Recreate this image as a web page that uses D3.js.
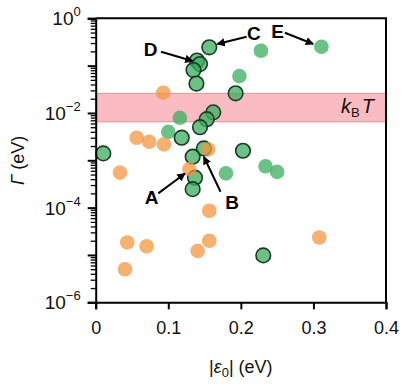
<!DOCTYPE html>
<html>
<head>
<meta charset="utf-8">
<script src="https://cdn.jsdelivr.net/npm/d3@7"></script>
<style>
  body { margin: 0; background: #fff; }
  text { font-family: "Liberation Sans", Arial, sans-serif; }
</style>
</head>
<body>
<svg></svg>
<script>
const WIDTH = 411;
const HEIGHT = 385;
const MARGIN = {top: 18.3, right: 25, bottom: 82.7, left: 95.7};

// |eps0| (eV), Gamma (eV)
const orangePoints = [
  [0.0931, 0.0268], [0.0565, 0.0030], [0.0738, 0.00246], [0.094, 0.00217],
  [0.155, 0.0017], [0.129, 0.00065], [0.0335, 0.00055], [0.1565, 8.6e-5],
  [0.0435, 1.84e-5], [0.0702, 1.53e-5], [0.1405, 1.22e-5], [0.1565, 2.0e-5],
  [0.308, 2.34e-5], [0.0404, 5.0e-6]
];
const greenPoints = [
  [0.311, 0.251], [0.2277, 0.206], [0.198, 0.060], [0.116, 0.0079],
  [0.100, 0.0040], [0.1795, 0.00053], [0.234, 0.00075], [0.250, 0.00057]
];
const greenOutlinedPoints = [
  [0.1565, 0.244], [0.1395, 0.128], [0.1437, 0.108], [0.1347, 0.0807],
  [0.1388, 0.0418], [0.1928, 0.026], [0.162, 0.0103], [0.153, 0.0074],
  [0.1437, 0.0050], [0.1185, 0.0030], [0.0105, 0.0014], [0.149, 0.00178],
  [0.1336, 0.00119], [0.1368, 0.00043], [0.1336, 0.000246], [0.2029, 0.00159],
  [0.2309, 9.8e-6]
];
const kTBand = [0.0065, 0.026];
const xTicks = [0, 0.1, 0.2, 0.3, 0.4];
const yLabelExponents = [0, -2, -4, -6];
// label, text position, arrow start, arrow tip (data units)
const annotations = [
  {label: 'D', text: [0.0758, 0.221], from: [0.090, 0.197], to: [0.1336, 0.125]},
  {label: 'C', text: [0.218, 0.482], from: [0.208, 0.408], to: [0.1675, 0.286]},
  {label: 'E', text: [0.2507, 0.539], from: [0.2607, 0.496], to: [0.2997, 0.286]},
  {label: 'A', text: [0.0771, 1.64e-4], from: [0.0862, 2.0e-4], to: [0.123, 5.28e-4]},
  {label: 'B', text: [0.188, 1.29e-4], from: [0.172, 2.16e-4], to: [0.149, 1.19e-3]}
];

const ORANGE = '#f39640';
const GREEN = '#3aac5e';

const svg = d3.select('svg')
    .attr('width', WIDTH)
    .attr('height', HEIGHT);

const innerW = WIDTH - MARGIN.left - MARGIN.right;
const innerH = HEIGHT - MARGIN.top - MARGIN.bottom;

const x = d3.scaleLinear().domain([0, 0.4]).range([0, innerW]);
const y = d3.scaleLog().domain([1e-6, 1]).range([innerH, 0]);

const g = svg.append('g')
    .attr('transform', `translate(${MARGIN.left},${MARGIN.top})`);

// arrow head
svg.append('defs').append('marker')
    .attr('id', 'head')
    .attr('viewBox', '0 0 10 10')
    .attr('refX', 9).attr('refY', 5)
    .attr('markerWidth', 4.2).attr('markerHeight', 4.2)
    .attr('orient', 'auto')
  .append('path')
    .attr('d', 'M0,0 L10,5 L0,10 Z')
    .attr('fill', '#000');

// kBT band
g.append('rect')
    .attr('x', 0)
    .attr('width', innerW)
    .attr('y', y(kTBand[1]))
    .attr('height', y(kTBand[0]) - y(kTBand[1]))
    .attr('fill', '#f9b0b7')
    .attr('fill-opacity', 0.85)
    .attr('stroke', '#ec8c97')
    .attr('stroke-width', 1);

const kt = g.append('text')
    .attr('x', innerW - 12)
    .attr('y', y(kTBand[0]) - 9)
    .attr('text-anchor', 'end')
    .attr('font-size', 20)
    .attr('fill', '#111');
kt.append('tspan').attr('font-style', 'italic').text('k');
kt.append('tspan').attr('font-size', 13).attr('dy', 4).text('B');
kt.append('tspan').attr('font-style', 'italic').attr('dy', -4).attr('dx', 2).text('T');

// points
function drawPoints(data, fill, stroke, opacity) {
  g.append('g').selectAll('circle')
      .data(data)
    .enter().append('circle')
      .attr('cx', (d) => x(d[0]))
      .attr('cy', (d) => y(d[1]))
      .attr('r', 7.3)
      .attr('fill', fill)
      .attr('fill-opacity', opacity)
      .attr('stroke', stroke)
      .attr('stroke-width', stroke === 'none' ? 0 : 1.6);
}
drawPoints(greenPoints, GREEN, 'none', 0.75);
drawPoints(greenOutlinedPoints, GREEN, '#1b3a24', 0.75);
drawPoints(orangePoints, ORANGE, 'none', 0.75);

// annotations
annotations.forEach((a) => {
  g.append('line')
      .attr('x1', x(a.from[0])).attr('y1', y(a.from[1]))
      .attr('x2', x(a.to[0])).attr('y2', y(a.to[1]))
      .attr('stroke', '#000')
      .attr('stroke-width', 2)
      .attr('marker-end', 'url(#head)');
  g.append('text')
      .attr('x', x(a.text[0])).attr('y', y(a.text[1]))
      .attr('text-anchor', 'middle')
      .attr('dominant-baseline', 'central')
      .attr('font-size', 19)
      .attr('font-weight', 'bold')
      .text(a.label);
});

// frame: top and right
g.append('path')
    .attr('d', `M0,0 H${innerW} V${innerH}`)
    .attr('fill', 'none')
    .attr('stroke', '#000')
    .attr('stroke-width', 2);

// x axis
const xAxis = g.append('g')
    .attr('transform', `translate(0,${innerH})`)
    .call(d3.axisBottom(x).tickValues(xTicks).tickSize(7).tickPadding(12)
        .tickFormat((d) => (d === 0 ? '0' : d3.format('.1f')(d))));
xAxis.select('.domain').attr('stroke-width', 2);
xAxis.selectAll('.tick line').attr('stroke-width', 2);
xAxis.selectAll('.tick text')
    .attr('font-size', 18)
    .attr('font-family', '"Liberation Sans", Arial, sans-serif')
    .attr('fill', '#111');

// y axis: minor ticks
const minorTicks = [];
for (let e = -6; e < 0; e++) {
  for (let m = 2; m <= 9; m++) minorTicks.push(m * Math.pow(10, e));
}
const yMinor = g.append('g')
    .call(d3.axisLeft(y).tickValues(minorTicks).tickSize(5).tickFormat(''));
yMinor.select('.domain').remove();
yMinor.selectAll('.tick line').attr('stroke-width', 1.3);

// y axis: decade ticks
const decades = d3.range(-6, 1).map((e) => Math.pow(10, e));
const yAxis = g.append('g')
    .call(d3.axisLeft(y).tickValues(decades).tickSize(8).tickFormat(''));
yAxis.select('.domain').attr('stroke-width', 2);
yAxis.selectAll('.tick line').attr('stroke-width', 2);

// y tick labels as 10^n
const yLabels = g.append('g').selectAll('text')
    .data(yLabelExponents)
  .enter().append('text')
    .attr('x', -15)
    .attr('y', (d) => y(Math.pow(10, d)) + 7)
    .attr('text-anchor', 'end')
    .attr('font-size', 19)
    .attr('fill', '#111');
yLabels.append('tspan').text('10');
yLabels.append('tspan')
    .attr('font-size', 13)
    .attr('dy', -9)
    .text((d) => (d === 0 ? '0' : '\u2212' + Math.abs(d)));

// axis titles
const xTitle = svg.append('text')
    .attr('x', MARGIN.left + innerW / 2)
    .attr('y', 373)
    .attr('text-anchor', 'middle')
    .attr('font-size', 18)
    .attr('fill', '#111');
xTitle.append('tspan').text('|');
xTitle.append('tspan').attr('font-style', 'italic').text('\u03b5');
xTitle.append('tspan').attr('font-size', 13).attr('dy', 4).text('0');
xTitle.append('tspan').attr('dy', -4).text('| (eV)');

const yTitle = svg.append('text')
    .attr('transform', `translate(24,${MARGIN.top + innerH / 2}) rotate(-90)`)
    .attr('text-anchor', 'middle')
    .attr('font-size', 18)
    .attr('fill', '#111');
yTitle.append('tspan').attr('font-style', 'italic').text('\u0393');
yTitle.append('tspan').text(' (eV)');
</script>
</body>
</html>
